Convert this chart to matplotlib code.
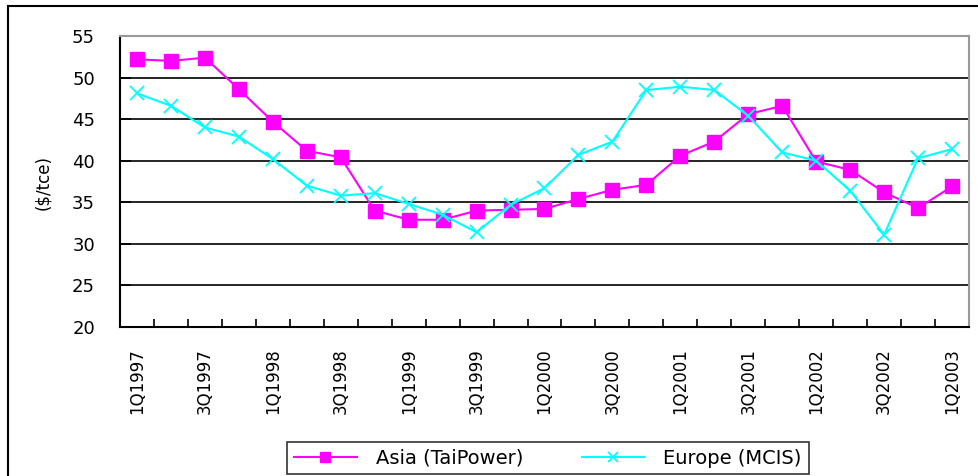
import numpy as np
import matplotlib
matplotlib.use("Agg")
import matplotlib.pyplot as plt
from matplotlib.lines import Line2D

# quarterly coal prices, 1Q1997 - 1Q2003
quarters = []
for yr in range(1997, 2004):
    for q in range(1, 5):
        quarters.append(f"{q}Q{yr}")
quarters = quarters[:25]

asia = [52.2, 52.0, 52.4, 48.6, 44.7, 41.2, 40.4, 34.0, 32.9, 32.9,
        34.0, 34.1, 34.2, 35.4, 36.5, 37.1, 40.6, 42.3, 45.6, 46.6,
        39.9, 38.9, 36.2, 34.3, 36.9]
europe = [48.1, 46.6, 44.0, 42.9, 40.2, 37.0, 35.8, 36.1, 34.8, 33.5,
          31.4, 34.7, 36.7, 40.7, 42.3, 48.5, 48.9, 48.5, 45.4, 41.0,
          40.0, 36.4, 31.1, 40.3, 41.4]

y_ticks = [20, 25, 30, 35, 40, 45, 50, 55]

plt.rcParams['font.family'] = ['DejaVu Sans']

fig = plt.figure(figsize=(9.79, 4.76), dpi=100)
ax = fig.add_axes([120 / 979, 1 - 327 / 476, 849 / 979, 291 / 476])

x = np.arange(len(quarters))
l1, = ax.plot(x, asia, color='#FF00FF', lw=1.5, marker='s', markersize=9.5,
              markeredgecolor='#FF00FF', label='Asia (TaiPower)', zorder=3)
l2, = ax.plot(x, europe, color='#00FFFF', lw=1.5, marker='x', markersize=10,
              markeredgewidth=1.3, label='Europe (MCIS)', zorder=4)

ax.set_xlim(-0.5, len(quarters) - 0.5)
ax.set_ylim(20, 55)
ax.set_yticks(y_ticks)
ax.yaxis.grid(True, color='black', lw=1.2)
ax.set_axisbelow(True)

# labels every second quarter, tick marks between categories
ax.set_xticks(x[::2])
ax.set_xticklabels(quarters[::2], rotation=90, fontsize=12)
ax.set_xticks(np.arange(-0.5, len(quarters)), minor=True)
ax.tick_params(axis='x', which='major', length=0, pad=15)
ax.tick_params(axis='x', which='minor', direction='in', length=6, width=1.2)
ax.tick_params(axis='y', direction='in', length=8, width=1.2, labelsize=13, pad=18)

for s in ['top', 'right']:
    ax.spines[s].set_color('#999999')
    ax.spines[s].set_linewidth(1.5)
for s in ['left', 'bottom']:
    ax.spines[s].set_color('black')
    ax.spines[s].set_linewidth(1.5)

fig.text(43 / 979, 1 - 183 / 476, '($/tce)', rotation=90, fontsize=12,
         ha='center', va='center')

leg = fig.legend(handles=[l1, l2], loc='center', ncol=2, fontsize=14,
                 bbox_to_anchor=(548 / 979, 1 - 458 / 476), frameon=True,
                 fancybox=False, edgecolor='black', handlelength=3.2,
                 markerscale=0.75, columnspacing=3.0, borderpad=0.35,
                 handletextpad=1.0)
leg.get_frame().set_linewidth(1.2)

# outer chart frame (left and top edges visible)
fig.add_artist(Line2D([8 / 979, 8 / 979], [0, 1 - 6 / 476], color='black', lw=1.5,
                      transform=fig.transFigure))
fig.add_artist(Line2D([8 / 979, 1], [1 - 6 / 476, 1 - 6 / 476], color='black', lw=1.5,
                      transform=fig.transFigure))

fig.savefig('out.png', dpi=100)
